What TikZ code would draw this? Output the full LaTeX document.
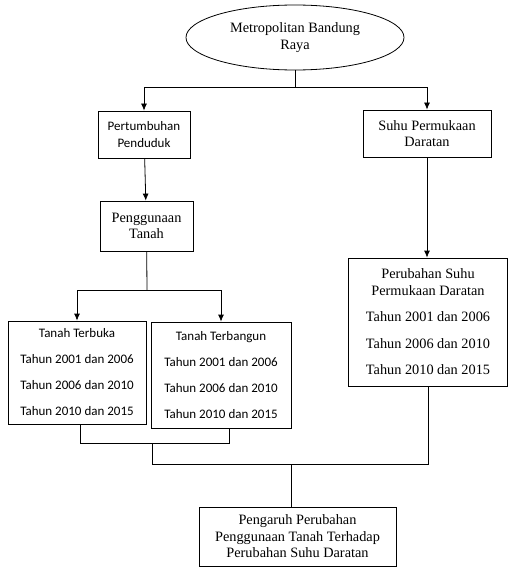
\documentclass[tikz,border=0pt]{standalone}
\usepackage{fontspec}
\setmainfont{Liberation Serif}
\newfontfamily\calibri{Carlito}
\usepackage{tikz}
\usetikzlibrary{shapes.geometric,arrows,arrows.meta}
\tikzstyle{process} = [rectangle, draw = black, line width = 0.8pt, align = center, inner sep = 0pt, font = \fontsize{14.3}{16.5}\selectfont]
\tikzstyle{sansprocess} = [process, font = \calibri\fontsize{13}{17}\selectfont]
\tikzstyle{startstop} = [ellipse, draw = black, line width = 0.8pt, align = center, inner sep = 0pt, minimum width = 218pt, minimum height = 65pt, font = \fontsize{14.3}{17}\selectfont]
\tikzstyle{arrow} = [line width = 0.8pt,-{Latex[length=7pt,width=6pt]}]
\tikzstyle{line} = [line width = 0.8pt]

\begin{document}
\begin{tikzpicture}[x = 1pt, y = 1pt]
\useasboundingbox (0,0) rectangle (508,-567);

\node(metro) [startstop] at (295,-37.5) {Metropolitan Bandung\\Raya};
\node(tumbuh) [sansprocess, minimum width = 92pt, minimum height = 47pt] at (144,-134.5) {Pertumbuhan\\Penduduk};
\node(suhu) [process, minimum width = 128pt, minimum height = 47pt] at (427,-133.5) {Suhu Permukaan\\Daratan};
\node(guna) [process, minimum width = 93pt, minimum height = 50pt] at (146.5,-226) {Penggunaan\\Tanah};
\node(buka) [sansprocess, minimum width = 138pt, minimum height = 103pt] at (77,-372.5) {Tanah Terbuka\\[9pt]Tahun 2001 dan 2006\\[9pt]Tahun 2006 dan 2010\\[9pt]Tahun 2010 dan 2015};
\node(bangun) [sansprocess, minimum width = 140pt, minimum height = 106pt] at (221,-375) {Tanah Terbangun\\[9pt]Tahun 2001 dan 2006\\[9pt]Tahun 2006 dan 2010\\[9pt]Tahun 2010 dan 2015};
\node(ubah) [process, minimum width = 159pt, minimum height = 128pt] at (428,-322) {Perubahan Suhu\\Permukaan Daratan\\[10pt]Tahun 2001 dan 2006\\[10pt]Tahun 2006 dan 2010\\[10pt]Tahun 2010 dan 2015};
\node(pengaruh) [process, minimum width = 197pt, minimum height = 59pt] at (297.5,-536.5) {Pengaruh Perubahan\\Penggunaan Tanah Terhadap\\Perubahan Suhu Daratan};

\coordinate (c1) at (295,-87);
\coordinate (c2) at (147,-290);
\coordinate (c3) at (80,-443);
\coordinate (c4) at (229,-443);
\coordinate (c5) at (152,-443);
\coordinate (c6) at (152,-464);
\coordinate (c7) at (291,-464);

\draw [line] (metro) -- (c1);
\draw [arrow] (c1) -| (tumbuh.north);
\draw [arrow] (c1) -| (suhu.north);
\draw [arrow] (tumbuh) -- (guna);
\draw [line] (guna) -- (c2);
\draw [arrow] (c2) -| (buka.north);
\draw [arrow] (c2) -| (bangun.north);
\draw [arrow] (suhu.south) -- (ubah.north -| suhu.south);
\draw [line] (c3 |- buka.south) -- (c3) -- (c4) -- (c4 |- bangun.south);
\draw [line] (c5) -- (c6) -| (ubah.south);
\draw [line] (c7) -- (c7 |- pengaruh.north);

\end{tikzpicture}
\end{document}
